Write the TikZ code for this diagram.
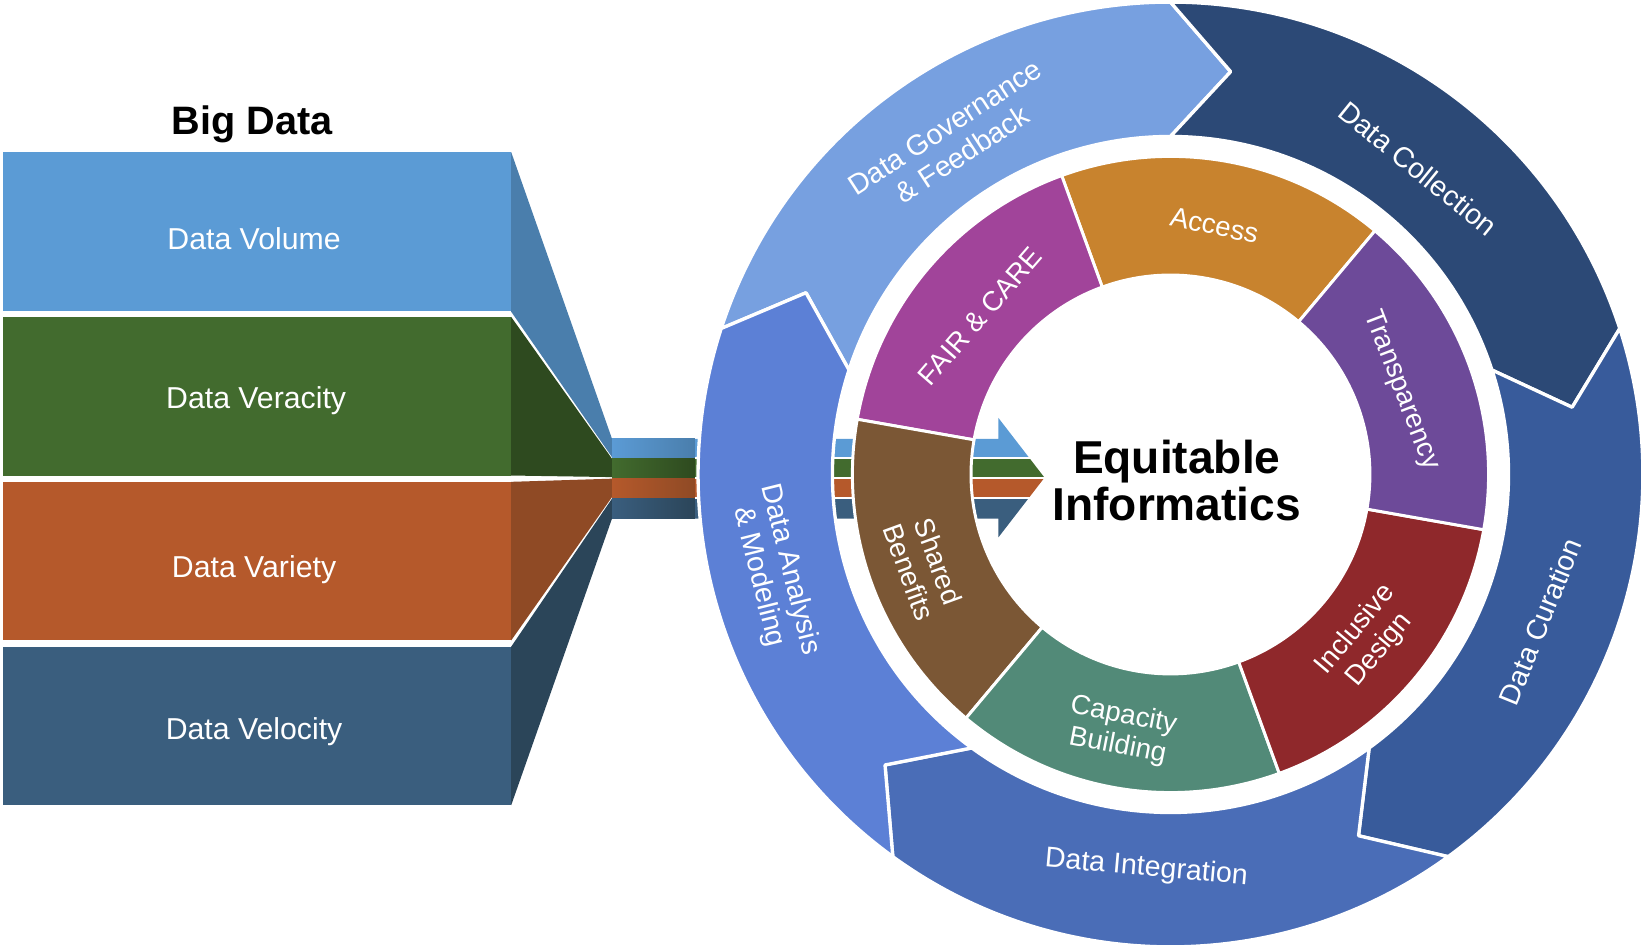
\documentclass[tikz,border=0pt]{standalone}
\usepackage{fontspec}
\setmainfont{Liberation Sans}

\definecolor{volblue}{HTML}{5B9BD5}
\definecolor{volfun}{HTML}{4A7EAC}
\definecolor{vergreen}{HTML}{426B2E}
\definecolor{verfun}{HTML}{2E4A1F}
\definecolor{varorange}{HTML}{B5592B}
\definecolor{varfun}{HTML}{8F4A25}
\definecolor{velblue}{HTML}{3A5E7E}
\definecolor{velfun}{HTML}{2B4559}
\definecolor{govblue}{HTML}{77A0E0}
\definecolor{collblue}{HTML}{2C4976}
\definecolor{curblue}{HTML}{385B9B}
\definecolor{integblue}{HTML}{4A6DB7}
\definecolor{analblue}{HTML}{5C80D6}
\definecolor{accesscol}{HTML}{C8832E}
\definecolor{faircol}{HTML}{A1449A}
\definecolor{transpcol}{HTML}{6D4A99}
\definecolor{inclcol}{HTML}{8F282B}
\definecolor{capaccol}{HTML}{528A78}
\definecolor{sharedcol}{HTML}{7B5735}

\tikzset{
    ringarrow/.style={draw=white, line width=1.8pt, line join=round},
    ringseg/.style={draw=white, line width=1.6pt, line join=round},
    boxtext/.style={text=white, font=\fontsize{16.4}{19}\selectfont},
    outertext/.style={text=white, align=center, font=\fontsize{15.5}{17.5}\selectfont},
    innertext/.style={text=white, align=center, font=\fontsize{15}{17}\selectfont},
}

\begin{document}
\begin{tikzpicture}[x=0.02cm, y=0.02cm]
    \useasboundingbox (0,0) rectangle (1568,906);

    \fill[volblue  ] (3,610) rectangle (487,761);
    \fill[vergreen ] (3,453) rectangle (487,604);
    \fill[varorange] (3,296) rectangle (487,447);
    \fill[velblue  ] (3,139) rectangle (487,290);

    \fill[volfun] (487,761) -- (583,488) -- (583,470.5) -- (487,609) -- cycle;
    \fill[verfun] (487,604) -- (583,469) -- (583,451.5) -- (487,453) -- cycle;
    \fill[varfun] (487,447) -- (583,450) -- (583,432.5) -- (487,296) -- cycle;
    \fill[velfun] (487,290) -- (583,431) -- (583,412  ) -- (487,139) -- cycle;

    \begin{scope}
        \clip (660,412) -- (951,412) -- (951,394) -- (995,451) -- (951,508) -- (951,488) -- (660,488) -- cycle;
        \fill[volblue  ] (660,470.5) rectangle (1000,515);
        \fill[vergreen ] (660,451.5) rectangle (1000,469);
        \fill[varorange] (660,432.5) rectangle (1000,450);
        \fill[velblue  ] (660,385  ) rectangle (1000,431);
    \end{scope}
    \shade[left color=volblue,   right color=volfun] (583,470.5) rectangle (662,488);
    \shade[left color=vergreen,  right color=verfun] (583,451.5) rectangle (662,469);
    \shade[left color=varorange, right color=varfun] (583,432.5) rectangle (662,450);
    \shade[left color=velblue,   right color=velfun] (583,412  ) rectangle (662,431);

    \node[font=\bfseries\fontsize{21.5}{24}\selectfont] (bigdata) at (240,788) {Big Data};
    \node[boxtext] (volume)   at (242,679) {Data Volume};
    \node[boxtext] (veracity) at (244,524) {Data Veracity};
    \node[boxtext] (variety)  at (242,363) {Data Variety};
    \node[boxtext] (velocity) at (242,209) {Data Velocity};

    \begin{scope}[shift={(1115,454)}]
        \filldraw[ringarrow, fill=govblue  ] (162:450) arc[start angle=162, end angle=90,   radius=450] -- (81.5:388)   -- (90:322)   arc[start angle=90,   end angle=162, radius=322] -- (153.5:388) -- cycle;
        \filldraw[ringarrow, fill=collblue ] (90:450)  arc[start angle=90,  end angle=18,   radius=450] -- (9.5:388)    -- (18:322)   arc[start angle=18,   end angle=90,  radius=322] -- (81.5:388)  -- cycle;
        \filldraw[ringarrow, fill=curblue  ] (18:450)  arc[start angle=18,  end angle=-54,  radius=450] -- (-62.5:388)  -- (-54:322)  arc[start angle=-54,  end angle=18,  radius=322] -- (9.5:388)   -- cycle;
        \filldraw[ringarrow, fill=integblue] (-54:450) arc[start angle=-54, end angle=-126, radius=450] -- (-134.5:388) -- (-126:322) arc[start angle=-126, end angle=-54, radius=322] -- (-62.5:388) -- cycle;
        \filldraw[ringarrow, fill=analblue ] (234:450) arc[start angle=234, end angle=162,  radius=450] -- (153.5:388)  -- (162:322)  arc[start angle=162,  end angle=234, radius=322] -- (225.5:388) -- cycle;

        \filldraw[ringseg, fill=accesscol] (50:303)   arc[start angle=50,   end angle=110,  radius=303] -- (110:190)  arc[start angle=110,  end angle=50,   radius=190] -- cycle;
        \filldraw[ringseg, fill=faircol  ] (110:303)  arc[start angle=110,  end angle=170,  radius=303] -- (170:190)  arc[start angle=170,  end angle=110,  radius=190] -- cycle;
        \filldraw[ringseg, fill=sharedcol] (170:303)  arc[start angle=170,  end angle=230,  radius=303] -- (230:190)  arc[start angle=230,  end angle=170,  radius=190] -- cycle;
        \filldraw[ringseg, fill=capaccol ] (-130:303) arc[start angle=-130, end angle=-70,  radius=303] -- (-70:190)  arc[start angle=-70,  end angle=-130, radius=190] -- cycle;
        \filldraw[ringseg, fill=inclcol  ] (-70:303)  arc[start angle=-70,  end angle=-10,  radius=303] -- (-10:190)  arc[start angle=-10,  end angle=-70,  radius=190] -- cycle;
        \filldraw[ringseg, fill=transpcol] (-10:303)  arc[start angle=-10,  end angle=50,   radius=303] -- (50:190)   arc[start angle=50,   end angle=-10,  radius=190] -- cycle;

        \node[outertext, rotate=33   ] (governance)  at (123:379)   {Data Governance\\\& Feedback};
        \node[outertext, rotate=-39  ] (collection)  at (51:375)    {Data Collection};
        \node[outertext, rotate=68   ] (curation)    at (-21.7:379) {Data Curation};
        \node[outertext, rotate=-5   ] (integration) at (-93.5:376) {Data Integration};
        \node[outertext, rotate=-76  ] (analysis)    at (194:389)   {Data Analysis\\\& Modeling};

        \node[innertext, rotate=-12  ] (access)       at (80:241)    {Access};
        \node[innertext, rotate=49   ] (fair)         at (140.2:236) {FAIR \& CARE};
        \node[innertext, rotate=-69  ] (transparency) at (20:234)    {Transparency};
        \node[innertext, rotate=50   ] (inclusive)    at (-40:245)   {Inclusive\\Design};
        \node[innertext, rotate=-11  ] (capacity)     at (-101:249)  {Capacity\\Building};
        \node[innertext, rotate=-70  ] (shared)       at (200.5:251) {Shared\\Benefits};

        \node[align=center, font=\bfseries\fontsize{25}{25.6}\selectfont] (equitable) at (6,-6) {Equitable\\Informatics};
    \end{scope}
\end{tikzpicture}
\end{document}
